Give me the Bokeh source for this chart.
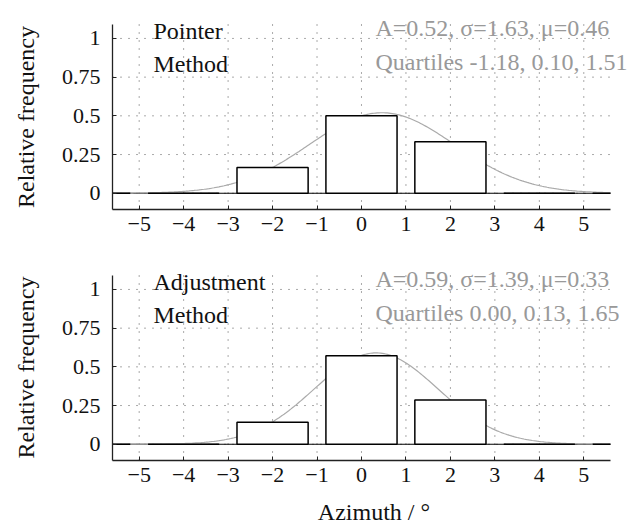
import numpy as np
from bokeh.plotting import figure
from bokeh.layouts import column
from bokeh.models import Range1d, FixedTicker, Label, ColumnDataSource
from bokeh.embed import file_html
from bokeh.resources import INLINE

# ---- data ----
bin_centers = [-6, -4, -2, 0, 2, 4, 6]
bin_width = 1.6
pointer_freq = [0, 0, 1/6, 0.5, 1/3, 0, 0]
adjust_freq = [0, 0, 1/7, 4/7, 2/7, 0, 0]
panel_names = [("Pointer", "Method"), ("Adjustment", "Method")]
fit_params = [(0.52, 1.63, 0.46), (0.59, 1.39, 0.33)]   # A, sigma, mu
quartiles = [("-1.18", "0.10", "1.51"), ("0.00", "0.13", "1.65")]
x_ticks = [-5, -4, -3, -2, -1, 0, 1, 2, 3, 4, 5]
y_ticks = [0, 0.25, 0.5, 0.75, 1]
y_tick_labels = ["0", "0.25", "0.5", "0.75", "1"]

X_LIM = (-5.6, 5.6)
Y_LIM = (-0.105, 1.09)

FONT = "Liberation Serif"
GRAY_TXT = "#999999"
TXT = "#111111"
NBSP = "\u00a0"


def make_panel(freq, names, params, quarts, height, border_bottom, y_top, xlabel=None):
    p = figure(width=635, height=height, output_backend="svg", toolbar_location=None,
               x_range=Range1d(X_LIM[0], 6.163), y_range=Range1d(Y_LIM[0], y_top),
               min_border_left=112, min_border_right=0, min_border_top=0,
               min_border_bottom=border_bottom)
    p.outline_line_color = None
    p.background_fill_color = "white"
    p.border_fill_color = "white"
    p.xgrid.visible = False
    p.ygrid.visible = False

    # axes
    p.xaxis.ticker = FixedTicker(ticks=x_ticks)
    p.xaxis.major_label_overrides = {t: (str(t).replace("-", "\u2212")) for t in x_ticks}
    p.xaxis.bounds = X_LIM
    p.yaxis.ticker = FixedTicker(ticks=y_ticks)
    p.yaxis.major_label_overrides = {t: l for t, l in zip(y_ticks, y_tick_labels)}
    p.yaxis.bounds = Y_LIM
    for ax in (p.xaxis, p.yaxis):
        ax.major_tick_in = 4
        ax.major_tick_out = 0
        ax.minor_tick_in = 0
        ax.minor_tick_out = 0
        ax.axis_line_color = "#222222"
        ax.axis_line_width = 1.3
        ax.major_tick_line_color = "#222222"
        ax.major_label_text_font = FONT
        ax.major_label_text_font_size = "22px"
        ax.major_label_text_color = TXT
        ax.axis_label_text_font = FONT
        ax.axis_label_text_font_size = "24px"
        ax.axis_label_text_font_style = "normal"
        ax.axis_label_text_color = TXT
    p.xaxis.major_label_standoff = 7
    p.yaxis.major_label_standoff = 12
    # trailing no-break spaces keep the label centred on the axis box, not the taller frame
    p.yaxis.axis_label = "Relative frequency" + NBSP * 4
    p.yaxis.axis_label_standoff = 20
    if xlabel:
        p.xaxis.axis_label = xlabel
        p.xaxis.axis_label_standoff = 14

    # dotted grid at the tick positions, limited to the axes box
    p.segment(x0=x_ticks, x1=x_ticks, y0=[Y_LIM[0]] * len(x_ticks), y1=[Y_LIM[1]] * len(x_ticks),
              line_color="#555555", line_dash="1 7", line_width=1)
    p.segment(x0=[X_LIM[0]] * len(y_ticks), x1=[X_LIM[1]] * len(y_ticks), y0=y_ticks, y1=y_ticks,
              line_color="#555555", line_dash="1 7", line_width=1)

    # baseline
    p.line(x=list(X_LIM), y=[0, 0], line_color="black", line_width=1.2)

    # fitted gaussian
    A, s, mu = params
    xs = np.linspace(X_LIM[0], X_LIM[1], 300)
    ys = A * np.exp(-(xs - mu) ** 2 / (2 * s ** 2))
    p.line(xs, ys, line_color="#aaaaaa", line_width=1.2)

    # bars (clipped to the axis box)
    c = np.array(bin_centers, dtype=float)
    left = np.clip(c - bin_width / 2, *X_LIM)
    right = np.clip(c + bin_width / 2, *X_LIM)
    src = ColumnDataSource(dict(left=left, right=right, top=freq, bottom=[0] * len(freq)))
    p.quad(left="left", right="right", top="top", bottom="bottom", source=src,
           fill_color="white", line_color="black", line_width=1.5)

    # labels
    common = dict(text_font=FONT, text_font_size="24px", text_baseline="alphabetic")
    p.add_layout(Label(x=-4.68, y=1.045, text=names[0], text_color=TXT, **common))
    p.add_layout(Label(x=-4.68, y=0.835, text=names[1], text_color=TXT, **common))
    p.add_layout(Label(x=0.315, y=1.07,
                       text=f"A={A:.2f}, \u03c3={s:.2f}, \u03bc={mu:.2f}",
                       text_color=GRAY_TXT, **common))
    p.add_layout(Label(x=0.315, y=0.85,
                       text="Quartiles " + ", ".join(quarts),
                       text_color=GRAY_TXT, **common))
    return p


p1 = make_panel(pointer_freq, panel_names[0], fit_params[0], quartiles[0], 250, 41, 1.245)
p2 = make_panel(adjust_freq, panel_names[1], fit_params[1], quartiles[1], 278, 68, 1.2516,
                xlabel="Azimuth / \u00b0")

layout = column(p1, p2, spacing=0)
open("out.html", "w").write(file_html(layout, INLINE))
